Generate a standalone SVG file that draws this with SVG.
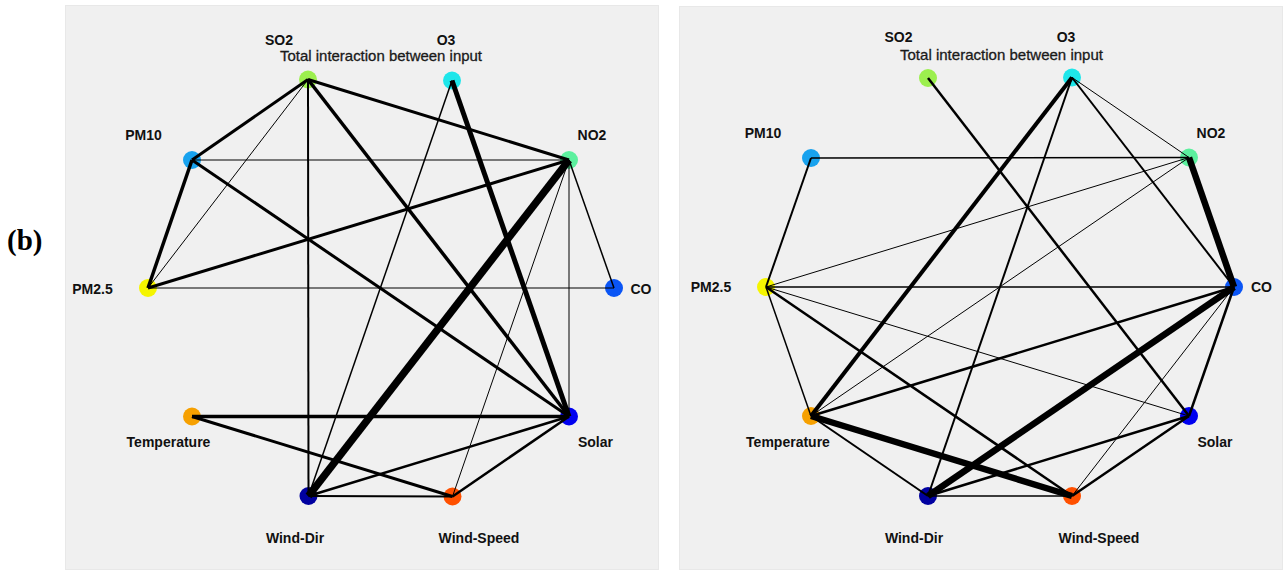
<svg xmlns="http://www.w3.org/2000/svg" width="1284" height="570" viewBox="0 0 1284 570">
<style>
.panel{fill:#f0f0f0;stroke:#e8e8e8;stroke-width:1}
.lbl{font-family:"Liberation Sans",Arial,sans-serif;font-weight:bold;font-size:14px;fill:#111;text-anchor:middle}
.ttl{font-family:"Liberation Sans",Arial,sans-serif;font-size:14.5px;fill:#1a1a1a;stroke:#1a1a1a;stroke-width:0.3;text-anchor:middle}
.e{stroke:#000;stroke-linecap:butt;fill:none}
.fig{font-family:"Liberation Serif","Times New Roman",serif;font-weight:bold;font-size:29px;fill:#000}
</style>
<rect x="0" y="0" width="1284" height="570" fill="#fff"/>
<text class="fig" x="7" y="250">(b)</text>

<g id="panel-left">
<rect class="panel" x="65.5" y="5.5" width="593" height="564"/>
<text class="ttl" x="381" y="61" textLength="202" lengthAdjust="spacingAndGlyphs">Total interaction between input</text>
<g id="L-nodes">
<g id="L-SO2"><circle cx="308" cy="79.5" r="9" fill="#9cef4e"/><text class="lbl" x="279" y="44.5">SO2</text></g>
<g id="L-O3"><circle cx="452" cy="80.5" r="9" fill="#1ee6ea"/><text class="lbl" x="446" y="44.5">O3</text></g>
<g id="L-PM10"><circle cx="192" cy="160" r="9" fill="#18a2ee"/><text class="lbl" x="143.5" y="140">PM10</text></g>
<g id="L-NO2"><circle cx="569" cy="160" r="9" fill="#5cf09e"/><text class="lbl" x="592" y="140">NO2</text></g>
<g id="L-PM25"><circle cx="148" cy="288" r="9" fill="#f5f500"/><text class="lbl" x="92.5" y="294">PM2.5</text></g>
<g id="L-CO"><circle cx="614" cy="288" r="9" fill="#0a55f5"/><text class="lbl" x="641" y="294">CO</text></g>
<g id="L-Temperature"><circle cx="192" cy="416.5" r="9" fill="#f6a000"/><text class="lbl" x="168.5" y="447">Temperature</text></g>
<g id="L-Solar"><circle cx="569" cy="416.5" r="9" fill="#0000f0"/><text class="lbl" x="595.5" y="447">Solar</text></g>
<g id="L-WindDir"><circle cx="308.5" cy="496" r="9" fill="#0000a0"/><text class="lbl" x="295" y="543">Wind-Dir</text></g>
<g id="L-WindSpeed"><circle cx="452.5" cy="496.5" r="9" fill="#ff5000"/><text class="lbl" x="479" y="543">Wind-Speed</text></g>
</g>
<g id="L-connectors">
<line class="e" x1="308" y1="79.5" x2="192" y2="160" stroke-width="3"/>
<line class="e" x1="308" y1="79.5" x2="148" y2="288" stroke-width="1"/>
<line class="e" x1="308" y1="79.5" x2="308.5" y2="496" stroke-width="2"/>
<line class="e" x1="308" y1="79.5" x2="569" y2="416.5" stroke-width="3.5"/>
<line class="e" x1="308" y1="79.5" x2="569" y2="160" stroke-width="3"/>
<line class="e" x1="452" y1="80.5" x2="308.5" y2="496" stroke-width="1.5"/>
<line class="e" x1="452" y1="80.5" x2="569" y2="416.5" stroke-width="5"/>
<line class="e" x1="192" y1="160" x2="569" y2="160" stroke-width="1"/>
<line class="e" x1="192" y1="160" x2="148" y2="288" stroke-width="3.5"/>
<line class="e" x1="192" y1="160" x2="569" y2="416.5" stroke-width="3"/>
<line class="e" x1="569" y1="160" x2="148" y2="288" stroke-width="3"/>
<line class="e" x1="569" y1="160" x2="308.5" y2="496" stroke-width="7.5"/>
<line class="e" x1="569" y1="160" x2="452.5" y2="496.5" stroke-width="1"/>
<line class="e" x1="569" y1="160" x2="614" y2="288" stroke-width="1.5"/>
<line class="e" x1="569" y1="160" x2="569" y2="416.5" stroke-width="1"/>
<line class="e" x1="148" y1="288" x2="614" y2="288" stroke-width="1"/>
<line class="e" x1="192" y1="416.5" x2="569" y2="416.5" stroke-width="3.5"/>
<line class="e" x1="192" y1="416.5" x2="452.5" y2="496.5" stroke-width="3"/>
<line class="e" x1="308.5" y1="496" x2="569" y2="416.5" stroke-width="2.5"/>
<line class="e" x1="308.5" y1="496" x2="452.5" y2="496.5" stroke-width="2"/>
<line class="e" x1="452.5" y1="496.5" x2="569" y2="416.5" stroke-width="2.5"/>
</g>
</g>

<g id="panel-right">
<rect class="panel" x="679.5" y="6.5" width="603" height="563"/>
<text class="ttl" x="1001.5" y="59.5" textLength="203" lengthAdjust="spacingAndGlyphs">Total interaction between input</text>
<g id="R-nodes">
<g id="R-SO2"><circle cx="928" cy="78" r="9" fill="#9cef4e"/><text class="lbl" x="898.5" y="42">SO2</text></g>
<g id="R-O3"><circle cx="1072" cy="77.5" r="9" fill="#1ee6ea"/><text class="lbl" x="1066" y="42">O3</text></g>
<g id="R-PM10"><circle cx="811" cy="158" r="9" fill="#18a2ee"/><text class="lbl" x="763" y="138">PM10</text></g>
<g id="R-NO2"><circle cx="1189" cy="157.5" r="9" fill="#5cf09e"/><text class="lbl" x="1211" y="138">NO2</text></g>
<g id="R-PM25"><circle cx="766" cy="287" r="9" fill="#f5f500"/><text class="lbl" x="711" y="292">PM2.5</text></g>
<g id="R-CO"><circle cx="1234" cy="287" r="9" fill="#0a55f5"/><text class="lbl" x="1261.5" y="292">CO</text></g>
<g id="R-Temperature"><circle cx="811" cy="416" r="9" fill="#f6a000"/><text class="lbl" x="788" y="446.5">Temperature</text></g>
<g id="R-Solar"><circle cx="1189" cy="416" r="9" fill="#0000f0"/><text class="lbl" x="1215" y="446.5">Solar</text></g>
<g id="R-WindDir"><circle cx="928" cy="496" r="9" fill="#0000a0"/><text class="lbl" x="914" y="542.5">Wind-Dir</text></g>
<g id="R-WindSpeed"><circle cx="1072" cy="496" r="9" fill="#ff5000"/><text class="lbl" x="1099" y="542.5">Wind-Speed</text></g>
</g>
<g id="R-connectors">
<line class="e" x1="928" y1="78" x2="1189" y2="416" stroke-width="2.5"/>
<line class="e" x1="1072" y1="77.5" x2="811" y2="416" stroke-width="4"/>
<line class="e" x1="1072" y1="77.5" x2="928" y2="496" stroke-width="2"/>
<line class="e" x1="1072" y1="77.5" x2="1189" y2="157.5" stroke-width="1"/>
<line class="e" x1="1072" y1="77.5" x2="1234" y2="287" stroke-width="2"/>
<line class="e" x1="811" y1="158" x2="1189" y2="157.5" stroke-width="1.5"/>
<line class="e" x1="811" y1="158" x2="766" y2="287" stroke-width="2"/>
<line class="e" x1="1189" y1="157.5" x2="766" y2="287" stroke-width="1"/>
<line class="e" x1="1189" y1="157.5" x2="811" y2="416" stroke-width="1"/>
<line class="e" x1="1189" y1="157.5" x2="1234" y2="287" stroke-width="6.5"/>
<line class="e" x1="766" y1="287" x2="1234" y2="287" stroke-width="1.5"/>
<line class="e" x1="766" y1="287" x2="811" y2="416" stroke-width="1.5"/>
<line class="e" x1="766" y1="287" x2="1072" y2="496" stroke-width="2.5"/>
<line class="e" x1="766" y1="287" x2="1189" y2="416" stroke-width="1"/>
<line class="e" x1="1234" y1="287" x2="811" y2="416" stroke-width="2.5"/>
<line class="e" x1="1234" y1="287" x2="928" y2="496" stroke-width="6.5"/>
<line class="e" x1="1234" y1="287" x2="1189" y2="416" stroke-width="2.5"/>
<line class="e" x1="1234" y1="287" x2="1072" y2="496" stroke-width="1"/>
<line class="e" x1="811" y1="416" x2="1072" y2="496" stroke-width="6.5"/>
<line class="e" x1="811" y1="416" x2="928" y2="496" stroke-width="2"/>
<line class="e" x1="928" y1="496" x2="1189" y2="416" stroke-width="2.5"/>
<line class="e" x1="928" y1="496" x2="1072" y2="496" stroke-width="1.5"/>
<line class="e" x1="1072" y1="496" x2="1189" y2="416" stroke-width="2.5"/>
</g>
</g>
</svg>
